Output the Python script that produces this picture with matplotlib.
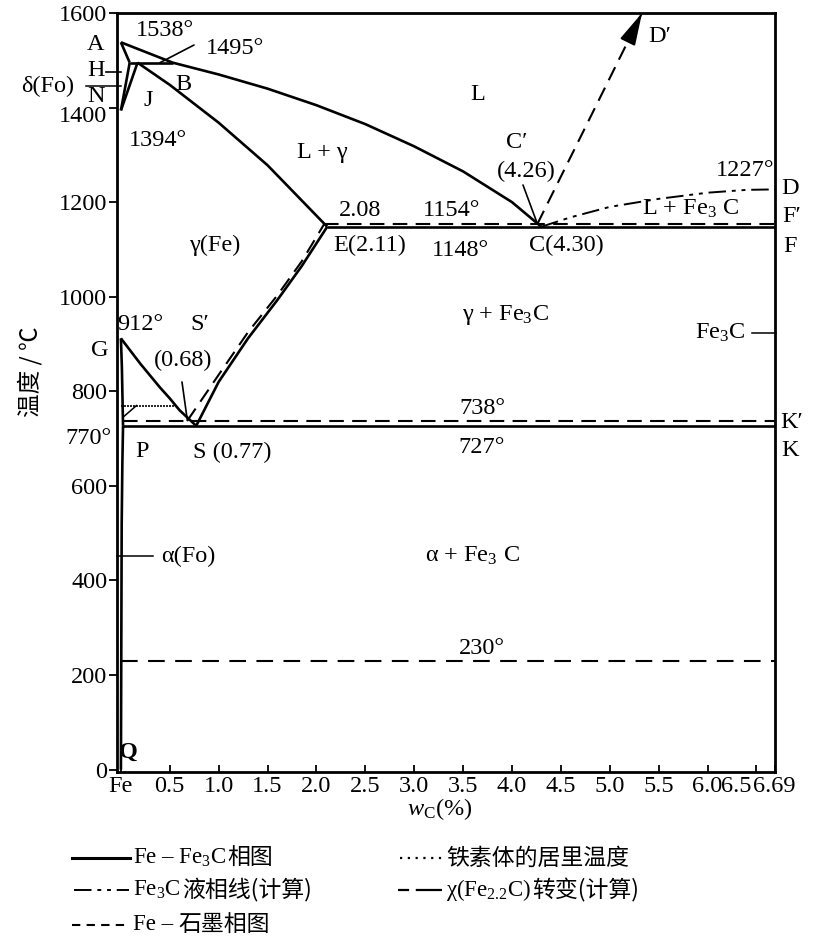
import matplotlib
matplotlib.use('Agg')
import matplotlib.pyplot as plt
from matplotlib.lines import Line2D
import matplotlib.transforms as mtransforms

plt.rcParams['font.family'] = ['Liberation Serif', 'DejaVu Serif']
plt.rcParams['mathtext.fontset'] = 'custom'
plt.rcParams['mathtext.rm'] = 'Liberation Serif'
plt.rcParams['mathtext.it'] = 'Liberation Serif:italic'
plt.rcParams['mathtext.default'] = 'regular'

# ---------------- data (wt% C, temperature in degC) ----------------
# Fe-Fe3C diagram (solid)
AB_c = [0.0, 0.53]
AB_t = [1538, 1495]
BC_c = [0.53, 1.0, 1.5, 2.0, 2.5, 3.0, 3.5, 4.0, 4.30]
BC_t = [1495, 1470, 1440, 1405, 1365, 1318, 1265, 1200, 1148]
AH_c = [0.0, 0.09]
AH_t = [1538, 1495]
HN_c = [0.09, 0.0]
HN_t = [1495, 1394]
JN_c = [0.17, 0.0]
JN_t = [1495, 1394]
HJB_c = [0.09, 0.53]
HJB_t = [1495, 1495]
JE_c = [0.17, 0.5, 1.0, 1.5, 2.11]
JE_t = [1495, 1448, 1368, 1278, 1148]
ECF_c = [2.11, 6.69]
ECF_t = [1148, 1148]
GS_c = [0.0, 0.1, 0.2, 0.3, 0.4, 0.5, 0.6, 0.77]
GS_t = [912, 885, 858, 833, 808, 785, 760, 727]
ES_c = [0.77, 1.0, 1.3, 1.6, 1.85, 2.11]
ES_t = [727, 820, 912, 993, 1065, 1148]
GP_c = [0.0, 0.01, 0.0218]
GP_t = [912, 850, 727]
PQ_c = [0.0218, 0.015, 0.008, 0.0]
PQ_t = [727, 650, 520, 0]
PSK_c = [0.0218, 6.69]
PSK_t = [727, 727]
PK2_c = [0.02, 0.16]
PK2_t = [745, 770]
# Curie temperature of ferrite (dotted)
MO_c = [0.0, 0.56]
MO_t = [770, 770]
# Fe3C liquidus (calculated, dash-dot)
CD_c = [4.30, 4.6, 5.0, 5.5, 6.0, 6.4, 6.69]
CD_t = [1148, 1168, 1190, 1207, 1220, 1226, 1227]
# Fe-graphite diagram (dashed)
ES2_c = [0.68, 1.0, 1.3, 1.6, 1.85, 2.08]
ES2_t = [738, 835, 925, 1003, 1075, 1154]
ECF2_c = [2.08, 6.69]
ECF2_t = [1154, 1154]
PSK2_c = [0.02, 6.69]
PSK2_t = [738, 738]
CD2_c = [4.26, 5.33]
CD2_t = [1154, 1600]
# chi (Fe2.2C) transformation (calculated)
CHI_c = [0.0, 6.69]
CHI_t = [230, 230]

x_ticks = [0.0, 0.5, 1.0, 1.5, 2.0, 2.5, 3.0, 3.5, 4.0, 4.5, 5.0, 5.5, 6.0, 6.5, 6.69]
x_labels = ['Fe', '0.5', '1.0', '1.5', '2.0', '2.5', '3.0', '3.5', '4.0', '4.5',
            '5.0', '5.5', '6.0', '6.5', '6.69']
y_ticks = [0, 200, 400, 600, 800, 1000, 1200, 1400, 1600]

# ---------------- figure ----------------
W, H = 824, 943
fig = plt.figure(figsize=(W / 100, H / 100), dpi=100)
ax = fig.add_axes([117 / W, 1 - 772 / H, (775 - 117) / W, (772 - 13) / H])
ax.set_xlim(-0.04, 6.69)
ax.set_ylim(-5, 1600)

FS = 17.5
K = 'black'
LW = 1.9

solid = [(AB_c, AB_t), (BC_c, BC_t), (AH_c, AH_t), (HN_c, HN_t), (JN_c, JN_t),
         (HJB_c, HJB_t), (JE_c, JE_t), (ECF_c, ECF_t), (GS_c, GS_t), (ES_c, ES_t),
         (GP_c, GP_t), (PQ_c, PQ_t), (PSK_c, PSK_t)]
for c, t in solid:
    ax.plot(c, t, color=K, lw=LW, solid_capstyle='butt')
ax.plot(PK2_c, PK2_t, color=K, lw=1.1)
ax.plot(MO_c, MO_t, color=K, lw=1.2, linestyle=(0, (1.2, 0.6)))
ax.plot(CD_c, CD_t, color=K, lw=1.4, linestyle=(0, (9, 3, 2, 3, 2, 3)))
for c, t in [(ES2_c, ES2_t), (ECF2_c, ECF2_t), (PSK2_c, PSK2_t), (CD2_c, CD2_t)]:
    ax.plot(c, t, color=K, lw=1.5, linestyle=(0, (7, 4)))
ax.plot(CHI_c, CHI_t, color=K, lw=1.5, linestyle=(0, (8, 5)))
ax.annotate('', xy=(CD2_c[1], CD2_t[1]), xytext=(5.21, 1550),
            arrowprops=dict(arrowstyle='-|>,head_length=1.1,head_width=0.28',
                            color=K, lw=1.5, mutation_scale=18,
                            shrinkA=0, shrinkB=0))

for s in ax.spines.values():
    s.set_linewidth(2.0)
ax.set_xticks(x_ticks)
ax.set_xticklabels(x_labels)
ax.set_yticks(y_ticks)
ax.tick_params(axis='x', direction='in', length=5, width=1.3, labelsize=FS, pad=3)
ax.tick_params(axis='y', direction='out', length=6, width=1.3, labelsize=FS, pad=1)


def shift(label, dx, dy):
    label.set_transform(label.get_transform() +
                        mtransforms.ScaledTranslation(dx / 100, dy / 100, fig.dpi_scale_trans))


xt = ax.get_xticklabels()
xt[-2].set_ha('right')
shift(xt[-2], -5, 0)
xt[-1].set_ha('left')
shift(xt[-1], -22, 0)
yt = ax.get_yticklabels()
shift(yt[7], 0, -6)

# ---------------- labels ----------------
def lab(x, y, s, ha='center', **kw):
    kw.setdefault('fontsize', FS)
    return fig.text(x / W, 1 - y / H, s, ha=ha, va='center', **kw)

def pointer(x0, y0, x1, y1, lw=1.2):
    fig.add_artist(Line2D([x0 / W, x1 / W], [1 - y0 / H, 1 - y1 / H],
                          color=K, lw=lw, transform=fig.transFigure))

def pointer_to(xpix, ypix, c, t, lw=1.2):
    ax.annotate('', xy=(c, t), xytext=(xpix, H - ypix), textcoords='figure pixels',
                arrowprops=dict(arrowstyle='-', color=K, lw=lw, shrinkA=0, shrinkB=0))

lab(165, 30, '1538°')
lab(235, 48, '1495°')
pointer_to(194, 45, 0.40, 1495)
lab(96, 45, 'A')
lab(96, 70, 'H')
pointer(106, 72, 121, 72)
lab(96, 97, 'N')
lab(48, 86, 'δ(Fo)')
pointer(86, 86, 121, 86, lw=1.1)
lab(148, 101, 'J')
lab(183, 84, 'B')
lab(158, 140, '1394°')
lab(478, 95, 'L')
lab(322, 152, 'L + γ')
lab(517, 142, 'C′')
lab(526, 171, '(4.26)')
pointer_to(523, 185, 4.26, 1154)
lab(745, 171, '1227°')
lab(790, 188, 'D')
lab(360, 211, '2.08')
lab(452, 211, '1154°')
lab(690, 209, 'L + Fe$_3$ C')
lab(792, 217, 'F′')
lab(215, 245, 'γ(Fe)')
lab(370, 245, 'E(2.11)')
lab(460, 250, '1148°')
lab(566, 245, 'C(4.30)')
lab(790, 247, 'F')
lab(140, 325, '912°')
lab(200, 325, 'S′')
lab(183, 360, '(0.68)')
pointer_to(182, 382, 0.68, 738)
lab(100, 350, 'G')
lab(505, 315, 'γ + Fe$_3$C')
lab(720, 333, 'Fe$_3$C')
pointer(752, 333, 776, 333, lw=1.1)
lab(88, 438, '770°')
lab(482, 409, '738°')
lab(792, 422, 'K′')
lab(142, 452, 'P')
lab(232, 452, 'S (0.77)')
lab(482, 448, '727°')
lab(790, 450, 'K')
lab(188, 556, 'α(Fo)')
pointer(117, 556, 153, 556, lw=1.1)
lab(472, 556, 'α + Fe$_3$ C')
lab(482, 649, '230°')
lab(128, 752, 'Q', fontweight='bold')
lab(660, 37, 'D′')

lab(30, 372, '温度 / ℃', rotation=90, family=['Noto Sans CJK SC', 'DejaVu Sans'], fontsize=17)
lab(440, 809, r'$\mathit{w}_\mathrm{C}$(%)')

# ---------------- legend ----------------
CJK = ['Noto Sans CJK SC', 'DejaVu Sans']
LFS = 16.5
renderer = fig.canvas.get_renderer()

def seq_text(x, y, pieces):
    for s, kw in pieces:
        kw = dict(kw)
        kw.setdefault('fontsize', LFS)
        t = fig.text(x / W, 1 - y / H, s, ha='left', va='center', **kw)
        x += t.get_window_extent(renderer).width

def sample(x0, x1, y, **kw):
    fig.add_artist(Line2D([x0 / W, x1 / W], [1 - y / H, 1 - y / H], color=K,
                          transform=fig.transFigure, **kw))

r1, r2, r3 = 858, 890, 925
sample(72, 130, r1, lw=2.2)
seq_text(133, r1, [('Fe – Fe$_3$C ', {}), ('相图', {'family': CJK})])
sample(74, 129, r2, lw=1.4, linestyle=(0, (9, 3, 2, 3, 2, 3)))
seq_text(133, r2, [('Fe$_3$C ', {}), ('液相线(计算)', {'family': CJK})])
sample(72, 129, r3, lw=1.5, linestyle=(0, (4, 3)))
seq_text(133, r3, [('Fe – ', {}), ('石墨相图', {'family': CJK})])
sample(400, 442, r1, lw=1.6, linestyle=(0, (1, 2.5)))
seq_text(446, r1, [('铁素体的居里温度', {'family': CJK})])
sample(398, 442, r2, lw=1.6, linestyle=(0, (5, 3, 14, 0)))
seq_text(446, r2, [('χ(Fe$_{2.2}$C) ', {}), ('转变(计算)', {'family': CJK})])

fig.savefig('out.png', dpi=100)
